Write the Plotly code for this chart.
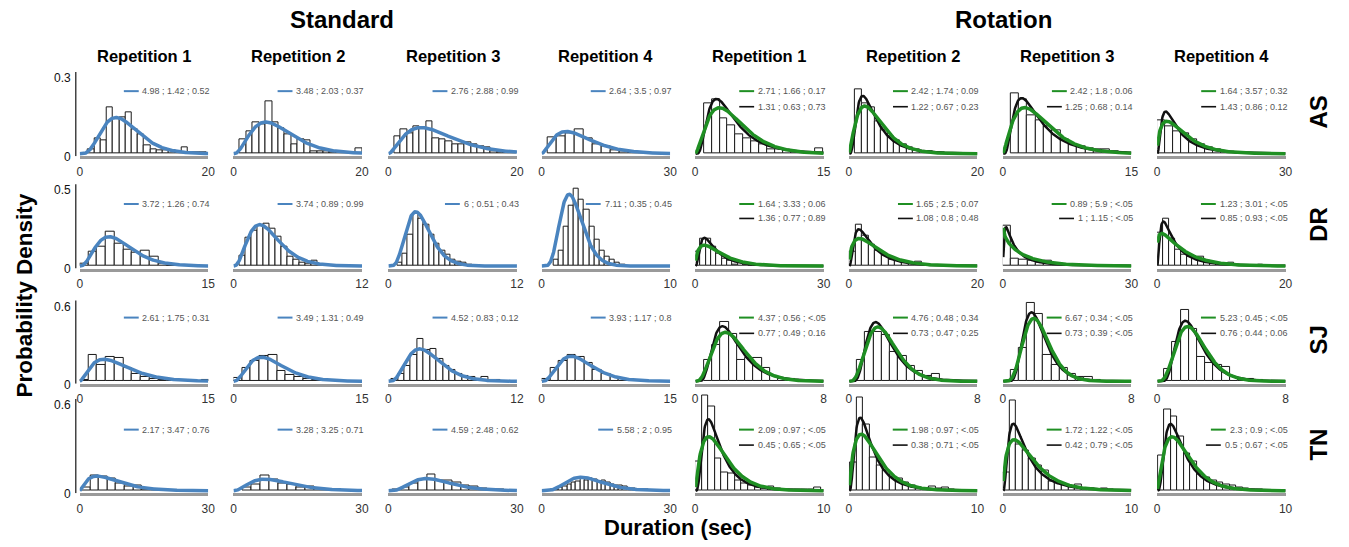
import math
import numpy as np
import plotly.graph_objects as go

W, H = 1349, 547

# ---------------- data ----------------
ROWS = ["AS", "DR", "SJ", "TN"]
GROUPS = ["Standard", "Rotation"]
REPS = ["Repetition 1", "Repetition 2", "Repetition 3", "Repetition 4"]
Y_MAX = [0.3, 0.5, 0.6, 0.6]

# x-axis maxima per panel (4 standard, then 4 rotation)
AS_XMAX = [20, 20, 20, 30, 15, 20, 15, 30]
DR_XMAX = [15, 12, 12, 10, 30, 20, 30, 20]
SJ_XMAX = [15, 15, 12, 15, 8, 8, 8, 8]
TN_XMAX = [30, 30, 30, 30, 10, 10, 10, 10]

# gamma fit: shape ; scale ; p  (standard = blue, rotation = green)
AS_GAMMA_SHAPE = [4.98, 3.48, 2.76, 2.64, 2.71, 2.42, 2.42, 1.64]
AS_GAMMA_SCALE = [1.42, 2.03, 2.88, 3.5, 1.66, 1.74, 1.8, 3.57]
AS_GAMMA_P = ["0.52", "0.37", "0.99", "0.97", "0.17", "0.09", "0.06", "0.32"]
DR_GAMMA_SHAPE = [3.72, 3.74, 6, 7.11, 1.64, 1.65, 0.89, 1.23]
DR_GAMMA_SCALE = [1.26, 0.89, 0.51, 0.35, 3.33, 2.5, 5.9, 3.01]
DR_GAMMA_P = ["0.74", "0.99", "0.43", "0.45", "0.06", "0.07", "<.05", "<.05"]
SJ_GAMMA_SHAPE = [2.61, 3.49, 4.52, 3.93, 4.37, 4.76, 6.67, 5.23]
SJ_GAMMA_SCALE = [1.75, 1.31, 0.83, 1.17, 0.56, 0.48, 0.34, 0.45]
SJ_GAMMA_P = ["0.31", "0.49", "0.12", "0.8", "<.05", "0.34", "<.05", "<.05"]
TN_GAMMA_SHAPE = [2.17, 3.28, 4.59, 5.58, 2.09, 1.98, 1.72, 2.3]
TN_GAMMA_SCALE = [3.47, 3.25, 2.48, 2, 0.97, 0.97, 1.22, 0.9]
TN_GAMMA_P = ["0.76", "0.71", "0.62", "0.95", "<.05", "<.05", "<.05", "<.05"]

# lognormal fit (rotation only, black): mu ; sigma ; p
AS_LOGN_MU = [1.31, 1.22, 1.25, 1.43]
AS_LOGN_SIGMA = [0.63, 0.67, 0.68, 0.86]
AS_LOGN_P = ["0.73", "0.23", "0.14", "0.12"]
DR_LOGN_MU = [1.36, 1.08, 1, 0.85]
DR_LOGN_SIGMA = [0.77, 0.8, 1.15, 0.93]
DR_LOGN_P = ["0.89", "0.48", "<.05", "<.05"]
SJ_LOGN_MU = [0.77, 0.73, 0.73, 0.76]
SJ_LOGN_SIGMA = [0.49, 0.47, 0.39, 0.44]
SJ_LOGN_P = ["0.16", "0.25", "<.05", "0.06"]
TN_LOGN_MU = [0.45, 0.38, 0.42, 0.5]
TN_LOGN_SIGMA = [0.65, 0.71, 0.79, 0.67]
TN_LOGN_P = ["<.05", "<.05", "<.05", "<.05"]

# histogram bins: first edge and bin width (sec) per panel
AS_BIN_START = [1.3, 1.0, 0.9, 1.5, 1.0, 1.0, 0.9, 0.0]
AS_BIN_WIDTH = [0.97, 1.0, 1.0, 2.1, 0.93, 1.0, 0.97, 1.86]
DR_BIN_START = [0.0, 0.57, 0.8, 0.9, 0.0, 0.0, 0.0, 0.0]
DR_BIN_WIDTH = [1.02, 0.56, 0.5, 0.4, 1.24, 1.03, 1.92, 0.92]
SJ_BIN_START = [0.0, 0.0, 0.3, 0.0, 0.54, 0.5, 0.47, 0.45]
SJ_BIN_WIDTH = [1.02, 1.02, 0.6, 1.0, 0.515, 0.515, 0.51, 0.51]
TN_BIN_START = [0.5, 2.1, 1.0, 2.0, 0.0, 0.1, 0.0, 0.05]
TN_BIN_WIDTH = [2.0, 2.09, 2.0, 1.0, 0.515, 0.51, 0.51, 0.51]

# histogram densities
AS_STD1 = [0.016, 0.06, 0.05, 0.175, 0.133, 0.14, 0.158, 0.094, 0.072, 0.032, 0.016, 0.012, 0.012, 0.012, 0.004, 0.026, 0.004, 0.004, 0.007]
AS_STD2 = [0.055, 0.087, 0.118, 0.113, 0.2, 0.12, 0.098, 0.072, 0.037, 0.053, 0.049, 0.01, 0.01, 0.008, 0.005, 0.01, 0.005, 0.005, 0.022]
AS_STD3 = [0.066, 0.094, 0.078, 0.103, 0.098, 0.123, 0.059, 0.053, 0.047, 0.037, 0.035, 0.044, 0.037, 0.029, 0.023, 0.01, 0.006, 0.004, 0.004]
AS_STD4 = [0.061, 0.066, 0.077, 0.093, 0.059, 0.037, 0.029, 0.012, 0.009, 0.006, 0.004, 0.003, 0.002]
AS_ROT1 = [0.19, 0.205, 0.133, 0.107, 0.072, 0.06, 0.047, 0.035, 0.016, 0.016, 0.012, 0.006, 0.004, 0.004, 0.019]
AS_ROT2 = [0.245, 0.19, 0.175, 0.125, 0.088, 0.067, 0.052, 0.036, 0.026, 0.016, 0.01, 0.01, 0.006, 0.004, 0.003, 0.002]
AS_ROT3 = [0.23, 0.205, 0.145, 0.128, 0.103, 0.09, 0.053, 0.037, 0.029, 0.022, 0.016, 0.016, 0.01, 0.005]
AS_ROT4 = [0.127, 0.103, 0.084, 0.078, 0.053, 0.037, 0.025, 0.016, 0.01, 0.006, 0.004, 0.003, 0.002, 0.002]

DR_STD1 = [0.014, 0.092, 0.125, 0.22, 0.14, 0.103, 0.087, 0.099, 0.062, 0.014, 0.005]
DR_STD2 = [0.066, 0.18, 0.226, 0.257, 0.27, 0.237, 0.185, 0.123, 0.062, 0.041, 0.02, 0.016, 0.031, 0.01, 0.004]
DR_STD3 = [0.02, 0.08, 0.2, 0.34, 0.3, 0.26, 0.2, 0.14, 0.1, 0.07, 0.04, 0.03, 0.02, 0.01]
DR_STD4 = [0.04, 0.1, 0.25, 0.38, 0.49, 0.42, 0.36, 0.25, 0.17, 0.1, 0.06, 0.04, 0.02, 0.01]
DR_ROT1 = [0.092, 0.173, 0.173, 0.123, 0.077, 0.045, 0.031, 0.01, 0.029, 0.01, 0.005, 0.003]
DR_ROT2 = [0.092, 0.26, 0.193, 0.135, 0.096, 0.072, 0.041, 0.031, 0.019, 0.019, 0.025, 0.01, 0.005, 0.003]
DR_ROT3 = [0.257, 0.045, 0.041, 0.035, 0.02, 0.035, 0.01, 0.006, 0.004, 0.003]
DR_ROT4 = [0.212, 0.3, 0.173, 0.103, 0.072, 0.058, 0.051, 0.062, 0.031, 0.019, 0.014, 0.01, 0.019, 0.008, 0.005, 0.004, 0.003, 0.008, 0.003]

SJ_STD1 = [0.012, 0.205, 0.123, 0.185, 0.178, 0.1, 0.057, 0.032, 0.02, 0.012, 0.007, 0.005, 0.003, 0.002, 0.012]
SJ_STD2 = [0.025, 0.106, 0.155, 0.193, 0.2, 0.08, 0.05, 0.03, 0.015, 0.01, 0.005, 0.003]
SJ_STD3 = [0.02, 0.06, 0.12, 0.2, 0.33, 0.24, 0.25, 0.17, 0.12, 0.09, 0.06, 0.04, 0.03, 0.02, 0.03, 0.01, 0.01]
SJ_STD4 = [0.02, 0.1, 0.16, 0.2, 0.19, 0.14, 0.09, 0.06, 0.03, 0.02, 0.01, 0.005]
SJ_ROT1 = [0.163, 0.28, 0.457, 0.365, 0.168, 0.18, 0.18, 0.106, 0.04, 0.02, 0.02, 0.012]
SJ_ROT2 = [0.163, 0.378, 0.378, 0.36, 0.23, 0.193, 0.12, 0.08, 0.045, 0.057, 0.01, 0.005]
SJ_ROT3 = [0.09, 0.254, 0.607, 0.52, 0.2, 0.13, 0.1, 0.06, 0.035, 0.037, 0.008]
SJ_ROT4 = [0.094, 0.3, 0.55, 0.4, 0.19, 0.138, 0.13, 0.114, 0.032, 0.02, 0.015, 0.007]

TN_STD1 = [0.022, 0.105, 0.095, 0.084, 0.05, 0.027, 0.036, 0.009, 0.005]
TN_STD2 = [0.022, 0.044, 0.105, 0.079, 0.05, 0.044, 0.022, 0.029, 0.013, 0.006, 0.009, 0.003]
TN_STD3 = [0.005, 0.02, 0.05, 0.075, 0.11, 0.07, 0.07, 0.055, 0.037, 0.027, 0.018, 0.01, 0.005]
TN_STD4 = [0.005, 0.01, 0.02, 0.03, 0.045, 0.055, 0.065, 0.08, 0.07, 0.08, 0.075, 0.065, 0.07, 0.055, 0.045, 0.038, 0.035, 0.028, 0.018, 0.013, 0.01, 0.007, 0.005]
TN_ROT1 = [0.2, 0.645, 0.57, 0.215, 0.125, 0.117, 0.066, 0.05, 0.035, 0.022, 0.013, 0.027, 0.013, 0.009, 0.005, 0.005, 0.005, 0.005, 0.022]
TN_ROT2 = [0.19, 0.63, 0.45, 0.225, 0.17, 0.135, 0.09, 0.08, 0.057, 0.035, 0.022, 0.013, 0.027, 0.013, 0.022, 0.005]
TN_ROT3 = [0.12, 0.61, 0.31, 0.27, 0.22, 0.17, 0.135, 0.065, 0.055, 0.04, 0.027, 0.04, 0.018, 0.013, 0.009, 0.018, 0.007]
TN_ROT4 = [0.24, 0.55, 0.5, 0.37, 0.25, 0.2, 0.113, 0.09, 0.066, 0.054, 0.044, 0.032, 0.022, 0.013, 0.009, 0.007]

ROW_DATA = {
    "AS": dict(xmax=AS_XMAX, gk=AS_GAMMA_SHAPE, gt=AS_GAMMA_SCALE, gp=AS_GAMMA_P,
               mu=AS_LOGN_MU, sg=AS_LOGN_SIGMA, lp=AS_LOGN_P, b0=AS_BIN_START, bw=AS_BIN_WIDTH,
               hist=[AS_STD1, AS_STD2, AS_STD3, AS_STD4, AS_ROT1, AS_ROT2, AS_ROT3, AS_ROT4]),
    "DR": dict(xmax=DR_XMAX, gk=DR_GAMMA_SHAPE, gt=DR_GAMMA_SCALE, gp=DR_GAMMA_P,
               mu=DR_LOGN_MU, sg=DR_LOGN_SIGMA, lp=DR_LOGN_P, b0=DR_BIN_START, bw=DR_BIN_WIDTH,
               hist=[DR_STD1, DR_STD2, DR_STD3, DR_STD4, DR_ROT1, DR_ROT2, DR_ROT3, DR_ROT4]),
    "SJ": dict(xmax=SJ_XMAX, gk=SJ_GAMMA_SHAPE, gt=SJ_GAMMA_SCALE, gp=SJ_GAMMA_P,
               mu=SJ_LOGN_MU, sg=SJ_LOGN_SIGMA, lp=SJ_LOGN_P, b0=SJ_BIN_START, bw=SJ_BIN_WIDTH,
               hist=[SJ_STD1, SJ_STD2, SJ_STD3, SJ_STD4, SJ_ROT1, SJ_ROT2, SJ_ROT3, SJ_ROT4]),
    "TN": dict(xmax=TN_XMAX, gk=TN_GAMMA_SHAPE, gt=TN_GAMMA_SCALE, gp=TN_GAMMA_P,
               mu=TN_LOGN_MU, sg=TN_LOGN_SIGMA, lp=TN_LOGN_P, b0=TN_BIN_START, bw=TN_BIN_WIDTH,
               hist=[TN_STD1, TN_STD2, TN_STD3, TN_STD4, TN_ROT1, TN_ROT2, TN_ROT3, TN_ROT4]),
}

# ---------------- layout geometry (pixels) ----------------
COL_LEFT = [77.3, 232.2, 388.3, 542.7, 697.3, 852.2, 1007.3, 1162.7]
COL_W = 129.5
ROW_TOP = [76, 190, 308, 408]      # pixel of y-axis max tick
ROW_BASE = [156, 270, 387, 498]    # pixel of y = 0
EXT = 32                           # extra room above the top tick
LOW = 2.5                          # px gap between y=0 and axis line
LEG_Y1 = [92.5, 207, 322.3, 436]
LEG_Y2 = [108.3, 221.7, 338.3, 451.7]

BLUE = "#4a84bf"
GREEN = "#1f8f23"
BLACK = "#111111"
FONT = "Liberation Sans, Arial, sans-serif"


def gamma_pdf(x, k, t):
    return np.exp((k - 1) * np.log(x) - x / t - math.lgamma(k) - k * math.log(t))


def logn_pdf(x, mu, s):
    return np.exp(-(np.log(x) - mu) ** 2 / (2 * s * s)) / (x * s * math.sqrt(2 * math.pi))


def px(x):
    return x / W


def py(y):
    return 1 - y / H


def text_w(s, size):
    w = 0
    for ch in s:
        if ch.isdigit():
            w += 0.556
        elif ch == "<":
            w += 0.584
        else:
            w += 0.278
    return w * size


def label(text, x, y, size, angle=0, xanchor="center", color="black"):
    return dict(text=text, x=px(x), y=py(y), xref="paper", yref="paper",
                xanchor=xanchor, yanchor="middle", showarrow=False, textangle=angle,
                font=dict(size=size, color=color))


fig = go.Figure()
layout = dict(width=W, height=H, margin=dict(l=0, r=0, t=0, b=0),
              paper_bgcolor="white", plot_bgcolor="rgba(0,0,0,0)",
              showlegend=False, bargap=0, font=dict(family=FONT, color="black"))
annotations = []
shapes = []

LEG_SIZE = 9

for r, row in enumerate(ROWS):
    d = ROW_DATA[row]
    ymax = Y_MAX[r]
    hpx = ROW_BASE[r] - ROW_TOP[r]
    ppu = hpx / ymax
    ylo = -LOW / ppu
    yhi = ymax + EXT / ppu
    for c in range(8):
        n = r * 8 + c + 1
        sfx = "" if n == 1 else str(n)
        xa, ya = "x" + sfx, "y" + sfx
        xmax = d["xmax"][c]
        left = COL_LEFT[c]

        # histogram
        heights = d["hist"][c]
        b0, bw = d["b0"][c], d["bw"][c]
        centers = [b0 + (i + 0.5) * bw for i in range(len(heights))]
        fig.add_trace(go.Bar(x=centers, y=heights, width=bw, xaxis=xa, yaxis=ya,
                             marker=dict(color="white", line=dict(color="#1a1a1a", width=1)),
                             hoverinfo="skip"))
        xs = np.linspace(0, xmax, 301)[1:]
        k, t = d["gk"][c], d["gt"][c]
        gy = gamma_pdf(xs, k, t)
        if c >= 4:
            j = c - 4
            ly = logn_pdf(xs, d["mu"][j], d["sg"][j])
            fig.add_trace(go.Scatter(x=xs, y=ly, mode="lines", xaxis=xa, yaxis=ya,
                                     line=dict(color=BLACK, width=2.5), hoverinfo="skip"))
            fig.add_trace(go.Scatter(x=xs, y=gy, mode="lines", xaxis=xa, yaxis=ya,
                                     line=dict(color=GREEN, width=3.5), hoverinfo="skip"))
        else:
            xg = np.concatenate([[0.0], xs]) if k > 1 else xs
            gg = np.concatenate([[0.0], gy]) if k > 1 else gy
            fig.add_trace(go.Scatter(x=xg, y=gg, mode="lines", xaxis=xa, yaxis=ya,
                                     line=dict(color=BLUE, width=3.5), hoverinfo="skip"))

        layout["xaxis" + sfx] = dict(domain=[px(left), px(left + COL_W)], anchor=ya,
                                     range=[0, xmax], tickvals=[0, xmax],
                                     ticktext=["0", str(xmax)], showline=True,
                                     linecolor="#9a9a9a", linewidth=3, ticks="",
                                     showgrid=False, zeroline=False,
                                     tickfont=dict(size=12, color="#333"),
                                     ticklabelstandoff=2)
        layout["yaxis" + sfx] = dict(domain=[py(ROW_BASE[r] + LOW), py(ROW_TOP[r] - EXT)],
                                     anchor=xa, range=[ylo, yhi], tickvals=[0, ymax],
                                     ticktext=["0", str(ymax)], showline=False,
                                     showgrid=False, zeroline=False, ticks="",
                                     showticklabels=(c == 0),
                                     tickfont=dict(size=12, color="#111"),
                                     ticklabelstandoff=8, ticklabelshift=3)
        if c == 0:
            shapes.append(dict(type="line", xref=xa + " domain", yref=ya,
                               x0=-4 / COL_W, x1=-4 / COL_W, y0=ylo, y1=ymax + 3 / ppu,
                               line=dict(color="#444", width=1.5)))

        # legend-like labels inside the panel
        right_px = left + COL_W + 4
        entries = [(f"{k:g} ; {t:g} ; {d['gp'][c]}", BLUE if c < 4 else GREEN, LEG_Y1[r])]
        if c >= 4:
            j = c - 4
            entries.append((f"{d['mu'][j]:g} ; {d['sg'][j]:g} ; {d['lp'][j]}", BLACK, LEG_Y2[r]))
        for txt, col, yy in entries:
            annotations.append(label(txt, right_px, yy, LEG_SIZE, xanchor="right", color="#555"))
            tl = right_px - text_w(txt, LEG_SIZE)
            shapes.append(dict(type="line", xref="paper", yref="paper",
                               x0=px(tl - 21.5), x1=px(tl - 6.5), y0=py(yy), y1=py(yy),
                               line=dict(color=col, width=2 if col != BLACK else 1.6)))

    annotations.append(label("<b>" + row + "</b>", 1325, (ROW_TOP[r] + ROW_BASE[r]) / 2 - 2, 24, angle=-90))

for c in range(8):
    annotations.append(label("<b>" + REPS[c % 4] + "</b>", COL_LEFT[c] + COL_W / 2, 57, 16.5))

annotations.append(label("<b>" + GROUPS[0] + "</b>", 342, 20, 24))
annotations.append(label("<b>" + GROUPS[1] + "</b>", 1008, 20, 24))
annotations.append(label("<b>Probability Density</b>", 22, 300, 22.5, angle=-90))
annotations.append(label("<b>Duration (sec)</b>", 680, 535, 22))

layout["annotations"] = annotations
layout["shapes"] = shapes
fig.update_layout(**layout)
fig.write_html("out.html")
